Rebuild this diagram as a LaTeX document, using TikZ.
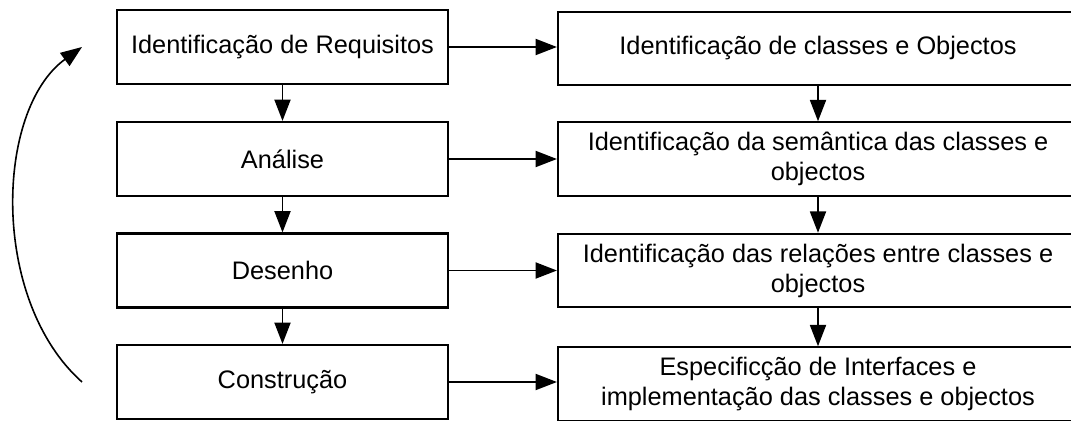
\documentclass[tikz,border=0pt]{standalone}
\usepackage{fontspec}
\setmainfont{Liberation Sans}
\usetikzlibrary{arrows.meta}
\begin{document}
\begin{tikzpicture}[x=0.75pt,y=-0.75pt,
  lbox/.style={draw,line width=1.6pt,minimum width=248pt,minimum height=55.5pt,inner sep=0pt,align=center,font=\fontsize{19}{22.5}\selectfont},
  rbox/.style={lbox,minimum width=390pt,minimum height=55pt},
  conn/.style={line width=1.4pt,-{Triangle[length=16pt,width=12pt]}}]
\useasboundingbox (0,0) rectangle (1071,421);
\node[lbox] (L1) at (282.5,47) {Identificação de Requisitos};
\node[lbox] (L2) at (282.5,159) {Análise};
\node[lbox] (L3) at (282.5,270.5) {Desenho};
\node[lbox] (L4) at (282.5,382) {Construção};
\node[rbox] (R1) at (818,48.5) {Identificação de classes e Objectos};
\node[rbox] (R2) at (818,159) {Identificação da semântica das classes e\\objectos};
\node[rbox] (R3) at (818,270.5) {Identificação das relações entre classes e\\objectos};
\node[rbox] (R4) at (818,384) {Especificção de Interfaces e\\implementação das classes e objectos};
\draw[conn] (L1.east) -- (L1.east -| R1.west);
\draw[conn] (L2.east) -- (L2.east -| R2.west);
\draw[conn] (L3.east) -- (L3.east -| R3.west);
\draw[conn] (L4.east) -- (L4.east -| R4.west);
\draw[conn] (L1.south) -- (L2.north);
\draw[conn] (L2.south) -- (L3.north);
\draw[conn] (L3.south) -- (L4.north);
\draw[conn] (R1.south) -- (R2.north);
\draw[conn] (R2.south) -- (R3.north);
\draw[conn] (R3.south) -- (R4.north);
\coordinate (cs) at (82,382);
\coordinate (ce) at (82,47);
\draw[conn,line width=1.2pt] (cs) .. controls (-10,300) and (-5,110) .. (ce);
\end{tikzpicture}
\end{document}
